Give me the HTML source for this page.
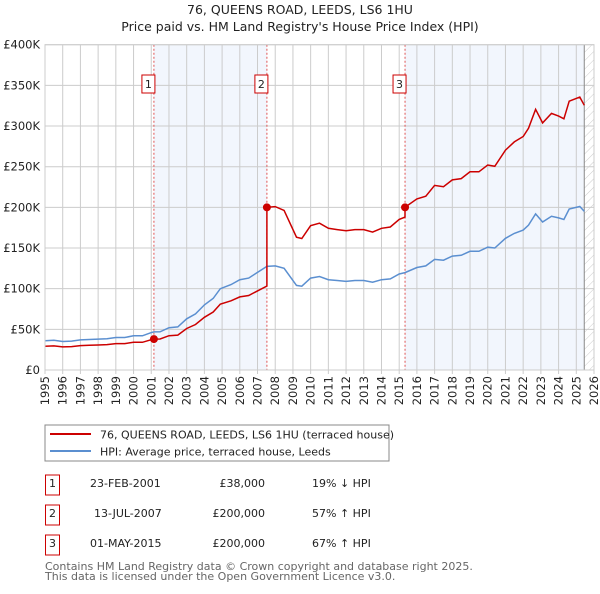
<!DOCTYPE html>
<html><head><meta charset="utf-8"><style>
body{margin:0;background:#fff;font-family:"DejaVu Sans","Liberation Sans",sans-serif;}
svg text{font-family:"DejaVu Sans","Liberation Sans",sans-serif;}
</style></head><body>
<svg id="c" width="600" height="590" xmlns="http://www.w3.org/2000/svg">
<defs><pattern id="hatch" width="6" height="6" patternUnits="userSpaceOnUse" patternTransform="rotate(45)"><line x1="0" y1="0" x2="0" y2="6" stroke="#ccc" stroke-width="1"/></pattern></defs>
<text x="300" y="14" text-anchor="middle" font-size="12.5" fill="#222">76, QUEENS ROAD, LEEDS, LS6 1HU</text>
<text x="300" y="31" text-anchor="middle" font-size="12.5" fill="#222">Price paid vs. HM Land Registry's House Price Index (HPI)</text>
<g id="plot"></g>
<g>
<rect x="45" y="425" width="344" height="36" fill="#fff" stroke="#888"/>
<line x1="50" y1="434" x2="91" y2="434" stroke="#cc0000" stroke-width="2"/>
<text x="100" y="438.5" font-size="11" fill="#222">76, QUEENS ROAD, LEEDS, LS6 1HU (terraced house)</text>
<line x1="50" y1="451" x2="91" y2="451" stroke="#5b8fd0" stroke-width="2"/>
<text x="100" y="455.5" font-size="11" fill="#222">HPI: Average price, terraced house, Leeds</text>
</g>
<g font-size="11" fill="#222">
<rect x="45.5" y="475" width="14" height="20" fill="#fff" stroke="#cc0000"/><text x="52.5" y="487" text-anchor="middle">1</text>
<text x="90" y="487">23-FEB-2001</text><text x="265" y="487" text-anchor="end">£38,000</text><text x="312" y="487">19% ↓ HPI</text>
<rect x="45.5" y="505" width="14" height="20" fill="#fff" stroke="#cc0000"/><text x="52.5" y="517" text-anchor="middle">2</text>
<text x="94" y="517">13-JUL-2007</text><text x="265" y="517" text-anchor="end">£200,000</text><text x="312" y="517">57% ↑ HPI</text>
<rect x="45.5" y="535" width="14" height="20" fill="#fff" stroke="#cc0000"/><text x="52.5" y="547" text-anchor="middle">3</text>
<text x="90" y="547">01-MAY-2015</text><text x="265" y="547" text-anchor="end">£200,000</text><text x="312" y="547">67% ↑ HPI</text>
</g>
<text x="45" y="570" font-size="11" fill="#666">Contains HM Land Registry data © Crown copyright and database right 2025.</text>
<text x="45" y="580" font-size="11" fill="#666">This data is licensed under the Open Government Licence v3.0.</text>
</svg>
<script>
const hpiYears=[1995,1995.5,1996,1996.5,1997,1997.5,1998,1998.5,1999,1999.5,2000,2000.5,2001,2001.15,2001.5,2002,2002.5,2003,2003.5,2004,2004.5,2004.9,2005.5,2006,2006.5,2007,2007.53,2008,2008.5,2009.2,2009.5,2010,2010.5,2011,2011.5,2012,2012.5,2013,2013.5,2014,2014.5,2015,2015.33,2016,2016.5,2017,2017.5,2018,2018.5,2019,2019.5,2020,2020.4,2021,2021.5,2022,2022.3,2022.7,2023.1,2023.6,2024,2024.3,2024.6,2025.2,2025.45];
const hpiValues=[36,36.5,35,35.5,37,37.5,38,38.5,40,40,42,42,46,46.9,47,52,53,63,69,80,88,100,105,111,113,120,127.4,128,125,104,103,113,115,111,110,109,110,110,108,111,112,118,119.8,126,128,136,135,140,141,146,146,151,150,162,168,172,178,192,182,189,187,185,198,201,195];
const saleYears=[2001.15,2007.53,2015.33];
const salePrices=[38,200,200];
const saleLabels=["1","2","3"];
const yTicks=[0,50,100,150,200,250,300,350,400];
const yTickLabels=["£0","£50K","£100K","£150K","£200K","£250K","£300K","£350K","£400K"];
const xTicks=[1995,1996,1997,1998,1999,2000,2001,2002,2003,2004,2005,2006,2007,2008,2009,2010,2011,2012,2013,2014,2015,2016,2017,2018,2019,2020,2021,2022,2023,2024,2025,2026];
const dataEnd=2025.45;

const X0=45,X1=594,Y0=370,Y1=44.7;
const xs=y=>X0+(y-1995)/(2026-1995)*(X1-X0);
const ys=v=>Y0-v/400*(Y0-Y1);
const NS="http://www.w3.org/2000/svg";
const g=document.getElementById('plot');
function el(t,a,p){const e=document.createElementNS(NS,t);for(const k in a)e.setAttribute(k,a[k]);(p||g).appendChild(e);return e;}
function hpiAt(y){for(let i=1;i<hpiYears.length;i++){if(y<=hpiYears[i]){const t=(y-hpiYears[i-1])/(hpiYears[i]-hpiYears[i-1]);return hpiValues[i-1]+t*(hpiValues[i]-hpiValues[i-1]);}}return hpiValues[hpiValues.length-1];}

// shading
for(let i=0;i<saleYears.length;i+=2){
  const end=i+1<saleYears.length?saleYears[i+1]:dataEnd;
  const r=el('rect',{x:xs(saleYears[i]),y:Y1,width:xs(end)-xs(saleYears[i]),height:Y0-Y1,fill:'#eef3fc',opacity:0.75});
  
  
}
const hr=el('rect',{x:xs(dataEnd),y:Y1,width:X1-xs(dataEnd),height:Y0-Y1,fill:'url(#hatch)'});


// grid
xTicks.forEach((t,i)=>{
  const x=xs(t);
  const l=el('line',{x1:x,y1:Y1,x2:x,y2:Y0+4,stroke:'#ccc','stroke-width':1});
  
  
  const tx=el('text',{x:0,y:0,transform:`translate(${x+4},${Y0+6}) rotate(-90)`,'text-anchor':'end','font-size':11.5,fill:'#222'});
  tx.textContent=t;
  
  
});
yTicks.forEach((t,i)=>{
  const y=ys(t);
  const l=el('line',{x1:X0,y1:y,x2:X1,y2:y,stroke:'#ccc','stroke-width':1});
  
  
  const tx=el('text',{x:40,y:y+4,'text-anchor':'end','font-size':11.5,fill:'#222'});
  tx.textContent=yTickLabels[i];
  
  
});
const dl=el('line',{x1:xs(dataEnd),y1:Y1,x2:xs(dataEnd),y2:Y0,stroke:'#888','stroke-width':1});


// sale markers lines
saleYears.forEach((s,i)=>{
  const l=el('line',{x1:xs(s),y1:Y1,x2:xs(s),y2:Y0,stroke:'#e05555','stroke-width':1,'stroke-dasharray':'2,2'});
  
  
  const r=el('rect',{x:xs(s)-12,y:75,width:13,height:18,fill:'#fff',stroke:'#cc0000'});
  
  
  const t=el('text',{x:xs(s)-5.5,y:88,'text-anchor':'middle','font-size':11,fill:'#222'});
  t.textContent=saleLabels[i];
  
  
});
// HPI line
const hp=hpiYears.map((y,i)=>`${i?'L':'M'}${xs(y).toFixed(1)},${ys(hpiValues[i]).toFixed(1)}`).join('');
const hl=el('path',{d:hp,fill:'none',stroke:'#5b8fd0','stroke-width':1.5});


// red line: HPI scaled by latest sale
let d='';
hpiYears.forEach((y,i)=>{
  let k=0;for(let j=0;j<saleYears.length;j++)if(y>=saleYears[j])k=j;
  if(i>0){for(let j=0;j<saleYears.length;j++){const s=saleYears[j];if(s>hpiYears[i-1]&&s<=y){const prevK=Math.max(0,j-1);d+=`L${xs(s).toFixed(1)},${ys(hpiAt(s)*salePrices[prevK]/hpiAt(saleYears[prevK])).toFixed(1)}L${xs(s).toFixed(1)},${ys(salePrices[j]).toFixed(1)}`;}}}
  const v=hpiValues[i]*salePrices[k]/hpiAt(saleYears[k]);
  d+=`${i?'L':'M'}${xs(y).toFixed(1)},${ys(v).toFixed(1)}`;
});
const rl=el('path',{d:d,fill:'none',stroke:'#cc0000','stroke-width':1.5});


saleYears.forEach((s,i)=>{
  const c=el('circle',{cx:xs(s),cy:ys(salePrices[i]),r:4,fill:'#cc0000'});
  
  
});
const fr=el('rect',{x:X0,y:Y1,width:X1-X0,height:Y0-Y1,fill:'none',stroke:'#ccc'});


</script>
</body></html>
